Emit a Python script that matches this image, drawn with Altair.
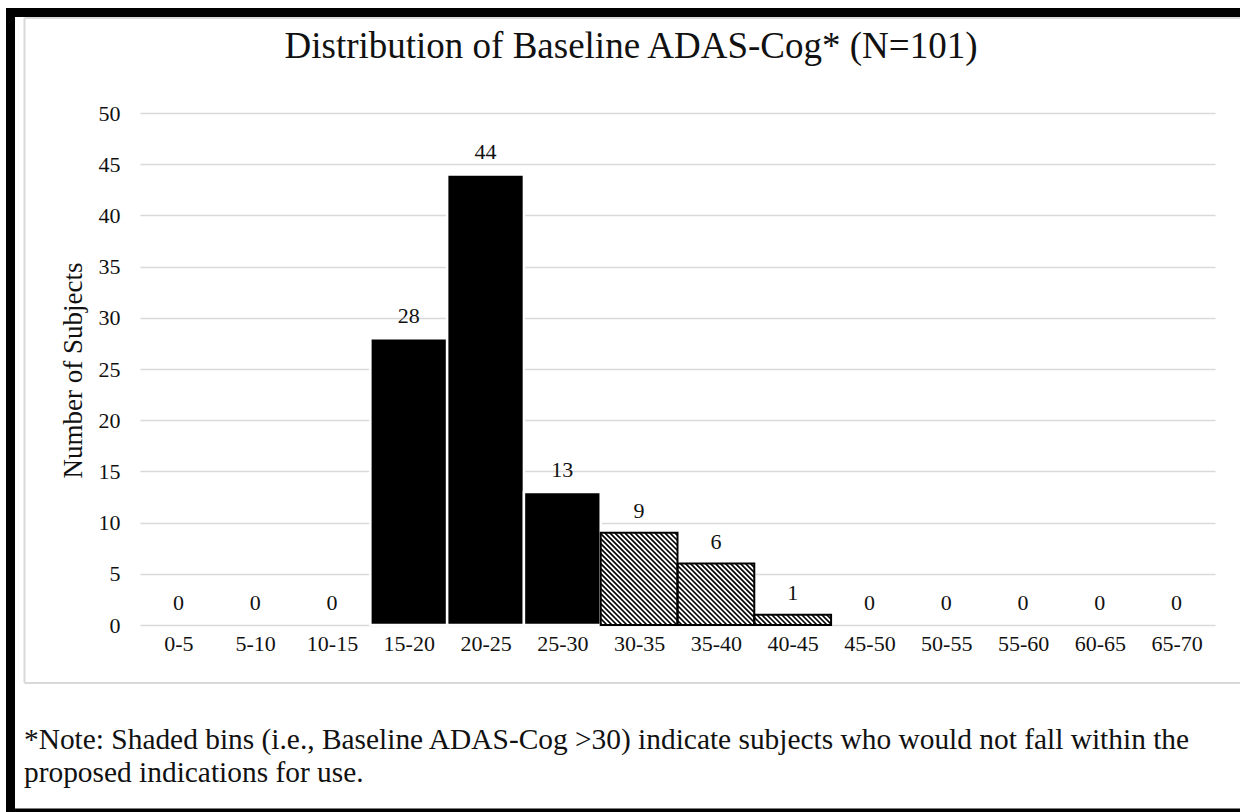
import math
import altair as alt
import pandas as pd

# Histogram bins of baseline ADAS-Cog and subject counts
bin_labels = ["0-5", "5-10", "10-15", "15-20", "20-25", "25-30", "30-35",
              "35-40", "40-45", "45-50", "50-55", "55-60", "60-65", "65-70"]
bin_lo = [0, 5, 10, 15, 20, 25, 30, 35, 40, 45, 50, 55, 60, 65]
counts = [0, 0, 0, 28, 44, 13, 9, 6, 1, 0, 0, 0, 0, 0]
shade_from = 30  # bins at or above this score are shaded

y_ticks = [0, 5, 10, 15, 20, 25, 30, 35, 40, 45, 50]

title_text = "Distribution of Baseline ADAS-Cog* (N=101)"
note_lines = [
    "*Note: Shaded bins (i.e., Baseline ADAS-Cog >30) indicate subjects who would not fall within the",
    "proposed indications for use.",
]

FONT = "Liberation Serif"
W, H = 1075, 512
X_MAX, Y_MAX = 70, 50
PAD_L, PAD_T, PAD_R, PAD_B = 140, 113, 28, 187
RIGHT_EDGE = W + PAD_R - 3  # frame lines run nearly to the canvas edge

df = pd.DataFrame({
    "label": bin_labels,
    "lo": bin_lo,
    "hi": [v + 5 for v in bin_lo],
    "count": counts,
})

# Diagonal hatch segments clipped to each shaded bar (computed in pixel space
# so the stripes run at 45 degrees, then mapped back to data units)
def hatch_segments(lo, hi, cnt, period=5.0):
    u0, u1 = lo / X_MAX * W, hi / X_MAX * W
    v0, v1 = H - cnt / Y_MAX * H, H
    segs = []
    k = math.ceil((v0 - u1) / period) * period
    while k <= v1 - u0:
        ua, ub = max(u0, v0 - k), min(u1, v1 - k)
        if ub > ua:
            segs.append({
                "hx": ua / W * X_MAX, "hx2": ub / W * X_MAX,
                "hy": (H - (ua + k)) / H * Y_MAX, "hy2": (H - (ub + k)) / H * Y_MAX,
            })
        k += period
    return segs

hatch_rows = []
for lo, c in zip(bin_lo, counts):
    if lo >= shade_from and c > 0:
        hatch_rows += hatch_segments(lo, lo + 5, c)
hatch_df = pd.DataFrame(hatch_rows)

xs = alt.Scale(domain=[0, X_MAX], nice=False, zero=False)
ys = alt.Scale(domain=[0, Y_MAX], nice=False)

label_expr = "[" + ",".join(f"'{s}'" for s in bin_labels) + "][floor(datum.value/5)]"

base = alt.Chart(df)

bars_solid = base.transform_filter(
    f"datum.count > 0 && datum.lo < {shade_from}"
).mark_rect(fill="black", stroke="white", strokeWidth=2.5).encode(
    x=alt.X("lo:Q", scale=xs,
            axis=alt.Axis(values=[v + 2.5 for v in bin_lo], labelExpr=label_expr,
                          title=None, grid=False, domain=False, ticks=False,
                          labelPadding=8, labelFontSize=22, labelColor="#111",
                          labelFont=FONT)),
    x2="hi:Q",
    y=alt.Y("count:Q", scale=ys,
            axis=alt.Axis(values=y_ticks, title="Number of Subjects", grid=True,
                          gridColor="#d9d9d9", gridWidth=1.6, domain=False,
                          ticks=False, labelPadding=20, labelFontSize=22,
                          labelColor="#111", labelFont=FONT,
                          titleFont=FONT, titleFontSize=27, titleFontWeight="normal",
                          titleColor="#111", titleX=-67, titleY=H / 2 + 1,
                          titleBaseline="middle", titleAngle=-90)),
    y2=alt.datum(0),
)

bars_shaded_fill = base.transform_filter(
    f"datum.count > 0 && datum.lo >= {shade_from}"
).mark_rect(fill="white").encode(
    x=alt.X("lo:Q", scale=xs), x2="hi:Q",
    y=alt.Y("count:Q", scale=ys), y2=alt.datum(0),
)

hatch = alt.Chart(hatch_df).mark_rule(color="black", strokeWidth=1.7, strokeCap="butt").encode(
    x=alt.X("hx:Q", scale=xs), x2="hx2:Q",
    y=alt.Y("hy:Q", scale=ys), y2="hy2:Q",
)

bars_shaded_edge = base.transform_filter(
    f"datum.count > 0 && datum.lo >= {shade_from}"
).mark_rect(fill=None, fillOpacity=0, stroke="black", strokeWidth=2).encode(
    x=alt.X("lo:Q", scale=xs), x2="hi:Q",
    y=alt.Y("count:Q", scale=ys), y2=alt.datum(0),
)

value_labels = base.transform_calculate(
    mid="datum.lo + 2.5"
).mark_text(font=FONT, fontSize=22, color="#111", baseline="middle", dy=-22).encode(
    x=alt.X("mid:Q", scale=xs),
    y=alt.Y("count:Q", scale=ys),
    text="count:Q",
)

one = alt.Data(values=[{}])

# Page frame: thick black edges on top, left and bottom
frame_top = alt.Chart(one).mark_rule(color="black", strokeWidth=9).encode(
    x=alt.value(-134), x2=alt.value(RIGHT_EDGE), y=alt.value(-100.5))
frame_left = alt.Chart(one).mark_rule(color="black", strokeWidth=9).encode(
    x=alt.value(-129.5), y=alt.value(-105), y2=alt.value(705))
frame_bottom = alt.Chart(one).mark_rule(color="black", strokeWidth=5).encode(
    x=alt.value(-134), x2=alt.value(RIGHT_EDGE), y=alt.value(698))

# Light grey chart-area outline (open on the right)
area_top = alt.Chart(one).mark_rule(color="#d9d9d9", strokeWidth=2).encode(
    x=alt.value(-115.5), x2=alt.value(RIGHT_EDGE), y=alt.value(-95))
area_left = alt.Chart(one).mark_rule(color="#d9d9d9", strokeWidth=2).encode(
    x=alt.value(-115.5), y=alt.value(-95), y2=alt.value(570))
area_bottom = alt.Chart(one).mark_rule(color="#d9d9d9", strokeWidth=2).encode(
    x=alt.value(-115.5), x2=alt.value(RIGHT_EDGE), y=alt.value(570))

title = alt.Chart(one).mark_text(
    text=title_text, font=FONT, fontSize=37, color="#111", align="center", baseline="middle"
).encode(x=alt.value(491), y=alt.value(-66))

note_1 = alt.Chart(one).mark_text(
    text=note_lines[0], font=FONT, fontSize=29.4, color="#111", align="left", baseline="middle"
).encode(x=alt.value(-116), y=alt.value(627))
note_2 = alt.Chart(one).mark_text(
    text=note_lines[1], font=FONT, fontSize=29.4, color="#111", align="left", baseline="middle"
).encode(x=alt.value(-116), y=alt.value(660))

chart = alt.layer(
    area_top, area_left, area_bottom, frame_top, frame_left, frame_bottom,
    bars_solid, bars_shaded_fill, hatch, bars_shaded_edge, value_labels,
    title, note_1, note_2,
).properties(
    width=W, height=H,
    autosize=alt.AutoSizeParams(type="none"),
    padding={"left": PAD_L, "top": PAD_T, "right": PAD_R, "bottom": PAD_B},
    background="white",
).configure_view(stroke=None)

chart.save("out.html", embed_options={"renderer": "svg", "actions": False})
